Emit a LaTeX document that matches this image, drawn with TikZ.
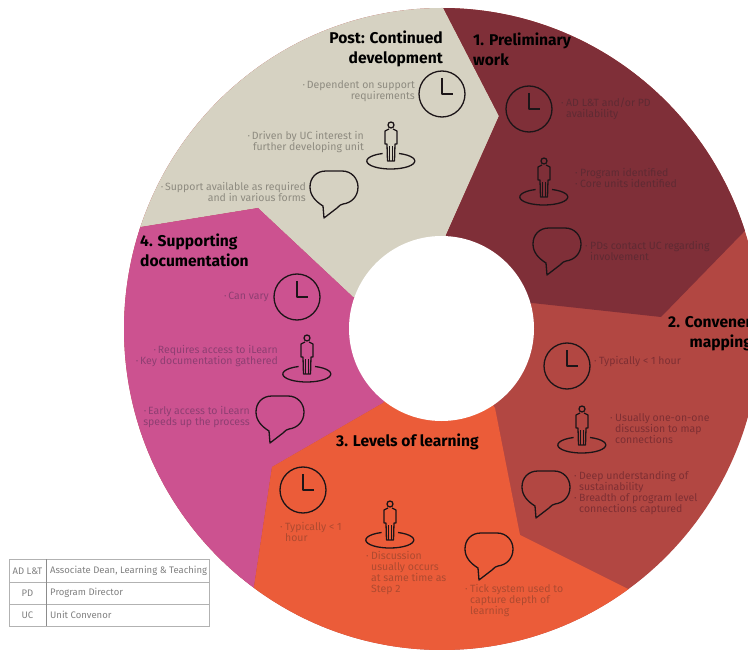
\documentclass[tikz,border=0pt]{standalone}
\usepackage{fontspec}
\setmainfont{Fira Sans}
\definecolor{postCol}{HTML}{D6D2C2}
\definecolor{prelimCol}{HTML}{7F2F38}
\definecolor{mapCol}{HTML}{B24742}
\definecolor{levelCol}{HTML}{EB5C39}
\definecolor{docCol}{HTML}{CC5290}
\definecolor{postText}{HTML}{8E8B80}
\definecolor{prelimText}{HTML}{5F2A33}
\definecolor{mapText}{HTML}{7E2F33}
\definecolor{levelText}{HTML}{AE4A30}
\definecolor{docText}{HTML}{8E3F72}
\definecolor{iconCol}{HTML}{1C1518}
\newcommand{\dotMark}{\makebox[5pt][l]{·}}
\newcommand{\dotGap}{\hspace*{5pt}}
\tikzset{
    heading/.style={font=\fontsize{15.6}{20}\selectfont\bfseries, text=black, inner sep=0pt},
    note/.style={font=\fontsize{10.5}{11}\selectfont, inner sep=0pt},
    noteLeft/.style={note, anchor=west, align=left},
    noteRight/.style={note, anchor=east, align=right},
    keyText/.style={font=\fontsize{9.5}{11}\selectfont, text=black!50, inner sep=0pt},
    icon/.style={draw=iconCol, line width=1.3pt, line join=round},
    clockIcon/.pic={
        \draw[icon] (0,0) circle[radius=23];
        \draw[icon] (0,-16) -- (0,0) -- (11,0);
    },
    personIcon/.pic={
        \draw[icon] (8,-7.5) arc[start angle=-70, end angle=250, x radius=24, y radius=8];
        \draw[icon] (0,-36) circle[radius=3];
        \draw[icon] (-2,-32) -- (-6,-30) -- (-6,-17) -- (-4,-17) -- (-3.5,0) -- (3.5,0)
            -- (4,-17) -- (6,-17) -- (6,-30) -- (2,-32);
        \draw[icon] (-1.2,-15) -- (-1.2,0);
        \draw[icon] (1.2,-15) -- (1.2,0);
    },
    bubbleIcon/.pic={
        \draw[icon] (-8,-17) -- (8,-17)
            .. controls (18,-17) and (24,-9) .. (24,-1)
            .. controls (24,9) and (17,15) .. (9,16)
            .. controls (7,16) and (5,18) .. (3,20)
            -- (-10,30) -- (-11,18)
            .. controls (-19,13) and (-24,7) .. (-24,-1)
            .. controls (-24,-10) and (-18,-17) .. (-8,-17) -- cycle;
    }
}
\begin{document}
\begin{tikzpicture}[x=1pt, y=-1pt]
    \useasboundingbox (0,0) rectangle (748,650);

    % Ring segments
    \begin{scope}
        \clip (442,329) ellipse [x radius=318, y radius=321];
        \fill[mapCol] (100,0) rectangle (800,660);
        \fill[postCol] (110,232) -- (258,208) -- (353,297) -- (441,328) -- (446,235)
            -- (499,116) -- (435,-8) -- (100,-8) -- cycle;
        \fill[prelimCol] (435,-8) -- (499,116) -- (446,235) -- (441,328) -- (532,303)
            -- (661,317) -- (770,205) -- (770,-8) -- cycle;
        \fill[docCol] (110,232) -- (258,208) -- (353,297) -- (441,328) -- (383,403)
            -- (272,467) -- (252,600) -- (100,600) -- cycle;
        \fill[levelCol] (252,600) -- (272,467) -- (383,403) -- (441,328) -- (495,408)
            -- (520,535) -- (660,605) -- (660,670) -- (252,670) -- cycle;
    \end{scope}
    \fill[white] (441.5,328.5) circle[radius=92.5];

    % Post
    \node[heading, anchor=east, align=right] (postHead) at (443,49) {Post: Continued\\development};
    \pic at (442,94) {clockIcon};
    \pic at (391,161) {personIcon};
    \pic at (334,188) {bubbleIcon};
    \node[noteRight, text=postText] (postTime) at (415,91.5) {·\,Dependent on support\\requirements};
    \node[noteRight, text=postText] (postPerson) at (364,142.5) {·\,Driven by UC interest in\\further developing unit};
    \node[noteRight, text=postText] (postTalk) at (306,191.5) {·\,Support available as required\\and in various forms};

    % Step 1
    \node[heading, anchor=west, align=left] (prelimHead) at (473,49) {1. Preliminary\\work};
    \pic at (529,109) {clockIcon};
    \pic at (544,197) {personIcon};
    \pic at (557,245) {bubbleIcon};
    \node[noteLeft, text=prelimText] (prelimTime) at (561,108.5) {\dotMark AD L\&T and/or PD\\\dotGap availability};
    \node[noteLeft, text=prelimText] (prelimPerson) at (575,177.5) {\dotMark Program identified\\\dotMark Core units identified};
    \node[noteLeft, text=prelimText] (prelimTalk) at (585,250.5) {\dotMark PDs contact UC regarding\\\dotGap involvement};

    % Step 2
    \node[heading, anchor=west, align=right] (mapHead) at (668,334) {2. Convener\\mapping};
    \pic at (567,366) {clockIcon};
    \pic at (582,445) {personIcon};
    \pic at (546,488) {bubbleIcon};
    \node[noteLeft, text=mapText] (mapTime) at (594,362) {\dotMark Typically < 1 hour};
    \node[noteLeft, text=mapText] (mapPerson) at (610,429) {\dotMark Usually one-on-one\\\dotGap discussion to map\\\dotGap connections};
    \node[noteLeft, text=mapText] (mapTalk) at (574,493.5) {\dotMark Deep understanding of\\\dotGap sustainability\\\dotMark Breadth of program level\\\dotGap connections captured};

    % Step 3
    \node[heading, anchor=west] (levelHead) at (336,442) {3. Levels of learning};
    \pic at (303,490) {clockIcon};
    \pic at (390,540) {personIcon};
    \pic at (489,550) {bubbleIcon};
    \node[noteLeft, text=levelText] (levelTime) at (280,531.5) {\dotMark Typically < 1\\\dotGap hour};
    \node[noteLeft, text=levelText] (levelPerson) at (366,573.5) {\dotMark Discussion\\\dotGap usually occurs\\\dotGap at same time as\\\dotGap Step 2};
    \node[noteLeft, text=levelText] (levelTalk) at (465,601) {\dotMark Tick system used to\\\dotGap capture depth of\\\dotGap learning};

    % Step 4
    \node[heading, anchor=west, align=left] (docHead) at (140,250) {4. Supporting\\documentation};
    \pic at (297,297) {clockIcon};
    \pic at (307,374) {personIcon};
    \pic at (280,413) {bubbleIcon};
    \node[noteRight, text=docText] (docTime) at (269,297) {·\,Can vary};
    \node[noteRight, text=docText] (docPerson) at (278,356.5) {·\,Requires access to iLearn\\·\,Key documentation gathered};
    \node[noteRight, text=docText] (docTalk) at (250,417.5) {·\,Early access to iLearn\\speeds up the process};

    % Abbreviation key
    \draw[black!30, line width=0.8pt] (9,559) rectangle (209,626);
    \draw[black!30, line width=0.8pt] (9,582) -- (209,582);
    \draw[black!30, line width=0.8pt] (9,604) -- (209,604);
    \draw[black!45, line width=0.8pt] (46,559) -- (46,626);
    \foreach \name/\short/\full/\y in {adRow/AD L\&T/Associate Dean{,} Learning \& Teaching/571,
                                      pdRow/PD/Program Director/593,
                                      ucRow/UC/Unit Convenor/615} {
        \node[keyText] (\name) at (27.5,\y) {\short};
        \node[keyText, anchor=west] (\name Full) at (50,\y) {\full};
    }
\end{tikzpicture}
\end{document}
